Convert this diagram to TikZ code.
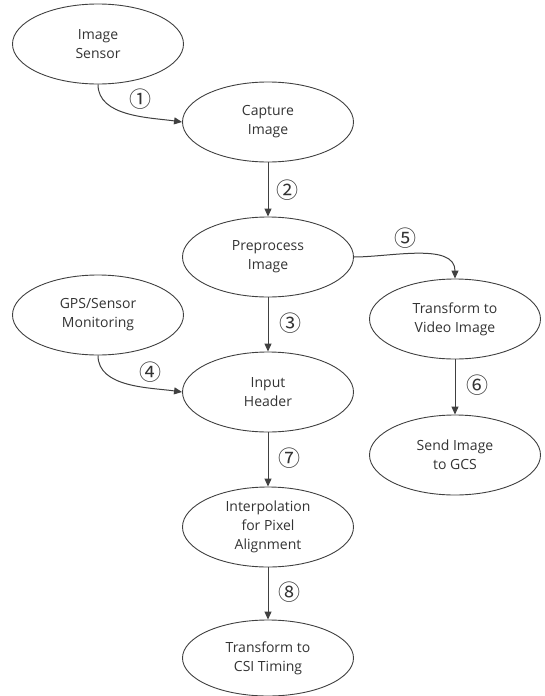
\documentclass[tikz,border=0pt]{standalone}
\usepackage{fontspec}
\setmainfont{Open Sans}
\newfontfamily\circfont{Noto Sans CJK KR}
\usetikzlibrary{arrows.meta,shapes.geometric}
\begin{document}
\begin{tikzpicture}[x=1pt,y=-1pt,
  proc/.style={ellipse,draw=black!75,line width=0.9pt,minimum width=171pt,minimum height=80pt,inner sep=0pt,align=center,font=\fontsize{14}{19}\selectfont,text=black!80},
  conn/.style={draw=black!75,line width=1pt,-{Triangle[length=8pt,width=7pt]}},
  num/.style={font=\circfont\fontsize{22}{22}\selectfont,text=black!80,inner sep=0pt}]
\useasboundingbox (0,0) rectangle (545,696);
\node[proc] (is) at (98,44) {Image\\Sensor};
\node[proc] (ci) at (268,122) {Capture\\Image};
\node[proc] (pi) at (268,257) {Preprocess\\Image};
\node[proc] (gps) at (98,315) {GPS/Sensor\\Monitoring};
\node[proc] (ih) at (268,392) {Input\\Header};
\node[proc] (tv) at (455,319) {Transform to\\Video Image};
\node[proc] (sg) at (455,455) {Send Image\\to GCS};
\node[proc] (ip) at (268,527) {Interpolation\\for Pixel\\Alignment};
\node[proc,minimum height=76pt] (csi) at (268,658) {Transform to\\CSI Timing};
\draw[conn] (is.south) to[out=-90,in=172,looseness=0.9] (ci.west);
\draw[conn] (ci) -- (pi);
\draw[conn] (pi) -- (ih);
\draw[conn] (gps.south) to[out=-90,in=172,looseness=0.9] (ih.west);
\draw[conn] (pi.east) to[out=0,in=90,looseness=0.9] (tv.north);
\draw[conn] (tv) -- (sg);
\draw[conn] (ih) -- (ip);
\draw[conn] (ip) -- (csi);
\node[num] (n1) at (140,99) {①};
\node[num] (n2) at (287,190) {②};
\node[num] (n3) at (290,323) {③};
\node[num] (n4) at (150,372) {④};
\node[num] (n5) at (405,238) {⑤};
\node[num] (n6) at (477,385) {⑥};
\node[num] (n7) at (289,458) {⑦};
\node[num] (n8) at (289,592) {⑧};
\end{tikzpicture}
\end{document}
